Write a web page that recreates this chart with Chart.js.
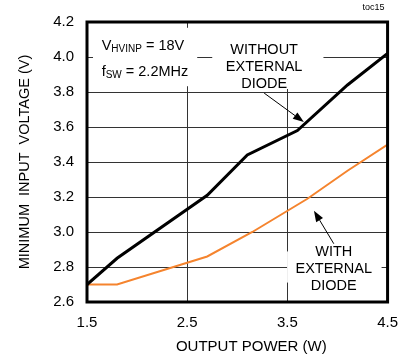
<!DOCTYPE html>
<html>
<head>
<meta charset="utf-8">
<script src="https://cdn.jsdelivr.net/npm/chart.js@4.4.0/dist/chart.umd.min.js"></script>
<style>
  body { margin: 0; background: #fff; }
</style>
</head>
<body>
<canvas id="canvas" width="410" height="360"></canvas>
<script>
// minimum input voltage vs output power, with and without external diode
const powerNoDiode = [1.5, 1.8, 2.7, 3.1, 3.6, 4.1, 4.5];
const voltNoDiode = [2.7, 2.85, 3.21, 3.44, 3.58, 3.84, 4.02];
const powerDiode = [1.5, 1.8, 2.7, 3.15, 3.7, 4.1, 4.5];
const voltDiode = [2.7, 2.7, 2.86, 3.0, 3.19, 3.35, 3.5];
const xTicks = [1.5, 2.5, 3.5, 4.5];
const yTicks = [2.6, 2.8, 3.0, 3.2, 3.4, 3.6, 3.8, 4.0, 4.2];

const FONT = "'Liberation Sans', Arial, sans-serif";

// white boxes behind the notes: [x0, y0, x1, y1] in data units
const noteBoxes = [
  [1.56, 4.167, 2.6, 3.833],
  [2.75, 4.2, 3.86, 3.817],
  [3.497, 2.889, 4.44, 2.711]
];

function pts(xs, ys) {
  return xs.map(function (v, i) { return { x: v, y: ys[i] }; });
}

// text with a subscript part, e.g. V + HVINP
function subText(ctx, parts, x, y) {
  parts.forEach(function (p) {
    ctx.font = (p[1] ? "10px " : "14.5px ") + FONT;
    ctx.fillText(p[0], x, y + (p[1] ? 2 : 0));
    x += ctx.measureText(p[0]).width;
  });
}

function arrow(ctx, x0, y0, x1, y1) {
  const a = Math.atan2(y1 - y0, x1 - x0);
  const len = 11, w = 4;
  ctx.beginPath();
  ctx.moveTo(x0, y0);
  ctx.lineTo(x1 - len * Math.cos(a), y1 - len * Math.sin(a));
  ctx.lineWidth = 1;
  ctx.stroke();
  ctx.beginPath();
  ctx.moveTo(x1, y1);
  ctx.lineTo(x1 - len * Math.cos(a) + w * Math.sin(a), y1 - len * Math.sin(a) - w * Math.cos(a));
  ctx.lineTo(x1 - len * Math.cos(a) - w * Math.sin(a), y1 - len * Math.sin(a) + w * Math.cos(a));
  ctx.closePath();
  ctx.fill();
}

const notes = {
  id: "notes",
  beforeDatasetsDraw(chart) {
    const ctx = chart.ctx;
    const x = chart.scales.x, y = chart.scales.y;
    const px = function (v) { return x.getPixelForValue(v); };
    const py = function (v) { return y.getPixelForValue(v); };
    ctx.save();
    ctx.fillStyle = "#fff";
    noteBoxes.forEach(function (b) {
      ctx.fillRect(px(b[0]), py(b[1]), px(b[2]) - px(b[0]), py(b[3]) - py(b[1]));
    });
    ctx.fillStyle = "#000";
    ctx.textBaseline = "alphabetic";
    ctx.textAlign = "left";
    subText(ctx, [["V"], ["HVINP", true], [" = 18V"]], px(1.646), py(4.041));
    subText(ctx, [["f"], ["SW", true], [" = 2.2MHz"]], px(1.646), py(3.889));
    ctx.font = "14.5px " + FONT;
    ctx.textAlign = "center";
    ctx.fillText("WITHOUT", px(3.268), py(4.018));
    ctx.fillText("EXTERNAL", px(3.268), py(3.922));
    ctx.fillText("DIODE", px(3.268), py(3.824));
    ctx.fillText("WITH", px(3.963), py(2.861));
    ctx.fillText("EXTERNAL", px(3.963), py(2.763));
    ctx.fillText("DIODE", px(3.963), py(2.667));
    ctx.strokeStyle = "#000";
    arrow(ctx, px(3.268), py(3.794), px(3.665), py(3.628));
    arrow(ctx, px(3.963), py(2.933), px(3.765), py(3.122));
    ctx.restore();
  },
  afterDraw(chart) {
    const ctx = chart.ctx;
    const a = chart.chartArea;
    ctx.save();
    ctx.strokeStyle = "#000";
    ctx.lineWidth = 3;
    ctx.strokeRect(a.left, a.top, a.right - a.left, a.bottom - a.top);
    ctx.fillStyle = "#000";
    ctx.font = "15px " + FONT;
    ctx.textAlign = "center";
    ctx.textBaseline = "middle";
    ctx.fillText("OUTPUT POWER (W)", (a.left + a.right) / 2 + 14, 347);
    ctx.font = "9px " + FONT;
    ctx.textAlign = "right";
    ctx.textBaseline = "alphabetic";
    ctx.fillText("toc15", a.right - 3, 10);
    ctx.restore();
  }
};

const ctx = document.getElementById("canvas").getContext("2d");
const myChart = new Chart(ctx, {
  type: "line",
  data: {
    datasets: [
      {
        label: "Without external diode",
        data: pts(powerNoDiode, voltNoDiode),
        borderColor: "#000",
        borderWidth: 3,
        pointRadius: 0,
        tension: 0
      },
      {
        label: "With external diode",
        data: pts(powerDiode, voltDiode),
        borderColor: "#f5842e",
        borderWidth: 2,
        pointRadius: 0,
        tension: 0
      }
    ]
  },
  options: {
    responsive: false,
    animation: false,
    devicePixelRatio: 1,
    layout: { padding: { top: 14, right: 21, left: 0, bottom: 0 } },
    plugins: { legend: { display: false }, tooltip: { enabled: false } },
    scales: {
      x: {
        type: "linear",
        min: 1.5,
        max: 4.5,
        afterBuildTicks: function (s) { s.ticks = xTicks.map(function (v) { return { value: v }; }); },
        afterFit: function (s) { s.height = 58; },
        ticks: {
          padding: 12,
          color: "#000",
          font: { size: 15, family: FONT },
          maxRotation: 0,
          callback: function (v) { return v.toFixed(1); }
        },
        grid: { color: "#333", lineWidth: 1, drawTicks: false },
        border: { display: false }
      },
      y: {
        min: 2.6,
        max: 4.2,
        afterBuildTicks: function (s) { s.ticks = yTicks.map(function (v) { return { value: v }; }); },
        afterFit: function (s) { s.width = 87; },
        ticks: {
          padding: 13,
          color: "#000",
          font: { size: 15, family: FONT },
          callback: function (v) { return v.toFixed(1); }
        },
        grid: { color: "#333", lineWidth: 1, drawTicks: false },
        border: { display: false },
        title: {
          display: true,
          text: "MINIMUM  INPUT  VOLTAGE (V)",
          color: "#000",
          font: { size: 14.5, family: FONT },
          padding: { top: 16, bottom: 0 }
        }
      }
    }
  },
  plugins: [notes]
});
</script>
</body>
</html>
